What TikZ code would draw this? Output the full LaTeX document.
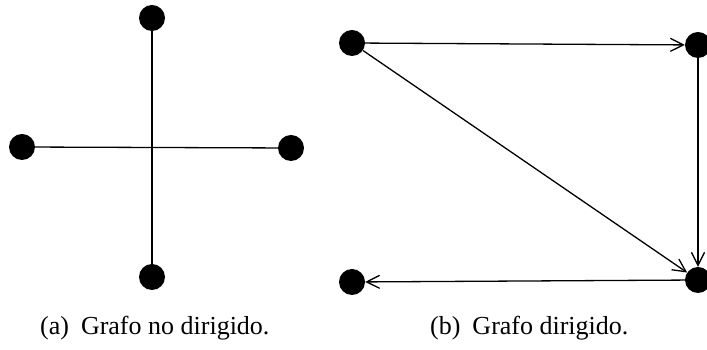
\documentclass[tikz,border=0pt]{standalone}
\usepackage{fontspec}
\setmainfont{Liberation Serif}
\usetikzlibrary{arrows.meta}
\begin{document}
\begin{tikzpicture}[x=1pt,y=1pt,
  vertex/.style={circle,fill=black,draw=none,minimum size=26pt,inner sep=0pt},
  edge/.style={line width=1.3pt,black},
  arc/.style={edge,-{Straight Barb[length=13pt,width=13pt,line width=1.3pt]}},
  caption/.style={anchor=base west,inner sep=0pt,font=\fontsize{26}{30}\selectfont}]
\useasboundingbox (0,0) rectangle (707,350);
% (a)
\node[vertex] (at) at (152,332) {};
\node[vertex] (al) at (22,203) {};
\node[vertex] (ar) at (291,202) {};
\node[vertex] (ab) at (152,73) {};
\draw[edge] (al) -- (ar);
\draw[edge] (at) -- (ab);
% (b)
\node[vertex] (btl) at (352,307) {};
\node[vertex] (btr) at (698,305) {};
\node[vertex] (bbr) at (698,70) {};
\node[vertex] (bbl) at (352,68) {};
\draw[arc] (btl) -- (btr);
\draw[arc] (btl) -- (bbr);
\draw[arc] (btr) -- (bbr);
\draw[arc] (bbr) -- (bbl);
% captions
\node[caption] (capa) at (40,15) {(a)\hspace{0.46em}Grafo no dirigido.};
\node[caption] (capb) at (430,15) {(b)\hspace{0.46em}Grafo dirigido.};
\end{tikzpicture}
\end{document}
